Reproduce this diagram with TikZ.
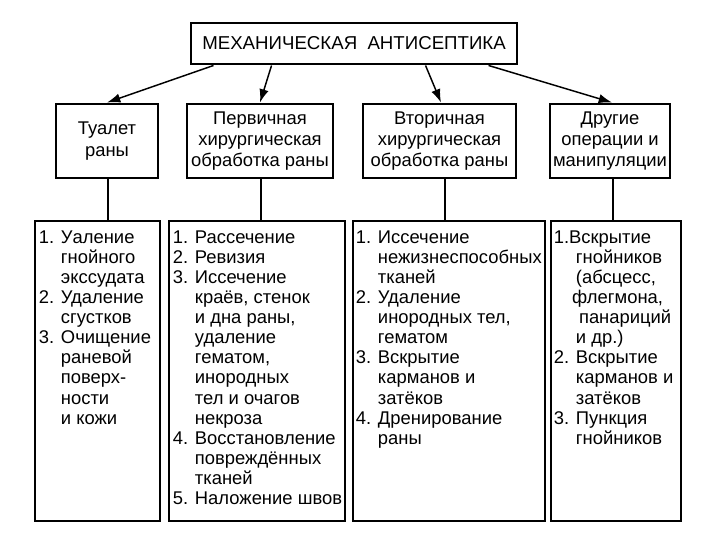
\documentclass[tikz,border=0pt]{standalone}
\usepackage{fontspec}
\setmainfont{Liberation Sans}
\usetikzlibrary{arrows.meta,calc}
\newcommand{\ii}{\hphantom{1. }}
\begin{document}
\begin{tikzpicture}[x=0.75pt,y=-0.75pt,
  box/.style={draw, line width=2.2pt, inner sep=0pt},
  lst/.style={anchor=north west, inner sep=0pt, align=left, font=\fontsize{13.8}{15.05}\selectfont},
  hdr/.style={align=center, inner sep=0pt, font=\fontsize{13.8}{16}\selectfont},
  arr/.style={-{Latex[length=10pt,width=7pt]}, line width=1.1pt},
  ln/.style={line width=0.8pt}]
\useasboundingbox (0,0) rectangle (720,540);
\fill[white] (0,0) rectangle (720,540);
% top
\node[box, minimum width=326*0.75pt, minimum height=41*0.75pt, font=\fontsize{14}{16}\selectfont] (top) at (354,43.5) {МЕХАНИЧЕСКАЯ\hspace{0.55em}АНТИСЕПТИКА};
% second level
\node[box, minimum width=102*0.75pt, minimum height=74*0.75pt] (s1) at (107,141) {};
\node[box, minimum width=146*0.75pt, minimum height=74*0.75pt] (s2) at (260,141) {};
\node[box, minimum width=153*0.75pt, minimum height=74*0.75pt] (s3) at (439.5,141) {};
\node[box, minimum width=120*0.75pt, minimum height=74*0.75pt] (s4) at (610,141) {};
\node[hdr] (h1) at (s1) {Туалет\\раны};
\node[hdr] (h2) at (s2) {Первичная\\хирургическая\\обработка раны};
\node[hdr] (h3) at (s3) {Вторичная\\хирургическая\\обработка раны};
\node[hdr] (h4) at (s4) {Другие\\операции и\\манипуляции};
% bottom level
\node[box, minimum width=125*0.75pt, minimum height=300*0.75pt] (b1) at (97.5,371) {};
\node[box, minimum width=176*0.75pt, minimum height=300*0.75pt] (b2) at (257,371) {};
\node[box, minimum width=192*0.75pt, minimum height=300*0.75pt] (b3) at (449,371) {};
\node[box, minimum width=130*0.75pt, minimum height=300*0.75pt] (b4) at (616,371) {};
\node[lst] (t1) at ($(b1.north west)+(5,11)$) {1. Уаление\\\ii гнойного\\\ii экссудата\\2. Удаление\\\ii сгустков\\3. Очищение\\\ii раневой\\\ii поверх-\\\ii ности\\\ii и кожи};
\node[lst] (t2) at ($(b2.north west)+(5,11)$) {1. Рассечение\\2. Ревизия\\3. Иссечение\\\ii краёв, стенок\\\ii и дна раны,\\\ii удаление\\\ii гематом,\\\ii инородных\\\ii тел и очагов\\\ii некроза\\4. Восстановление\\\ii повреждённых\\\ii тканей\\5. Наложение швов};
\node[lst] (t3) at ($(b3.north west)+(4,11)$) {1. Иссечение\\\ii нежизнеспособных\\\ii тканей\\2. Удаление\\\ii инородных тел,\\\ii гематом\\3. Вскрытие\\\ii карманов и\\\ii затёков\\4. Дренирование\\\ii раны};
\node[lst] (t4) at ($(b4.north west)+(4,11)$) {1.Вскрытие\\\ii гнойников\\\ii(абсцесс,\\\hphantom{1.}\,флегмона,\\\ii\,панариций\\\ii и др.)\\2. Вскрытие\\\ii карманов и\\\ii затёков\\3. Пункция\\\ii гнойников};
% arrows
\draw[arr] ($(top.south west)+(24,0)$) -- (s1.north);
\draw[arr] ($(top.south west)+(82,0)$) -- (s2.north);
\draw[arr] ($(top.south west)+(236,0)$) -- ($(s3.north)+(1.5,0)$);
\draw[arr] ($(top.south west)+(299,0)$) -- ($(s4.north)+(2,0)$);
% vertical links
\draw[ln] ($(s1.south)+(1,0)$) -- ($(b1.north -| s1.south)+(1,0)$);
\draw[ln] ($(s2.south)+(1,0)$) -- ($(b2.north -| s2.south)+(1,0)$);
\draw[ln] ($(s3.south)+(5.5,0)$) -- ($(b3.north -| s3.south)+(5.5,0)$);
\draw[ln] ($(s4.south)+(3,0)$) -- ($(b4.north -| s4.south)+(3,0)$);
\end{tikzpicture}
\end{document}
